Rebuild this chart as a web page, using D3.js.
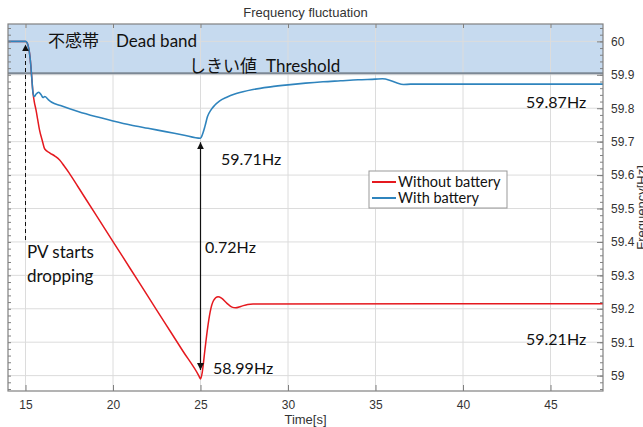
<!DOCTYPE html>
<html>
<head>
<meta charset="utf-8">
<script src="https://cdn.jsdelivr.net/npm/d3@7"></script>
<style>
  body { margin: 0; background: white; }
  svg { display: block; }
  .tick text { font-family: "Liberation Sans Narrow", "Liberation Sans", Arial, sans-serif; font-size: 12px; fill: #333; }
  .note { font-family: Lato, "Noto Sans", sans-serif; font-size: 16px; fill: #111; }
</style>
</head>
<body>
<svg id="chart"></svg>
<script>
// data
let timeTicks = [15, 20, 25, 30, 35, 40, 45]
let freqTicks = [59, 59.1, 59.2, 59.3, 59.4, 59.5, 59.6, 59.7, 59.8, 59.9, 60]
let seriesNames = ["Without battery", "With battery"]

let withBatteryT = [14, 15.0, 15.1, 15.2, 15.3, 15.36, 15.42, 15.5, 15.6, 15.75, 15.9, 16.0, 16.1, 16.3, 16.5,
  17, 18, 19, 20, 21, 22, 23, 24, 25, 25.1, 25.25, 25.4, 25.6, 25.8, 26.1, 26.5, 27, 28, 29, 30, 31, 32, 33,
  34, 35, 35.4, 35.8, 36.2, 36.6, 37, 48]
let withBatteryF = [60, 60, 59.995, 59.975, 59.93, 59.89, 59.85, 59.835, 59.842, 59.848, 59.84, 59.832, 59.835, 59.826, 59.818,
  59.808, 59.79, 59.775, 59.762, 59.75, 59.74, 59.73, 59.72, 59.71, 59.72, 59.745, 59.775, 59.795, 59.808, 59.822, 59.833, 59.843, 59.856, 59.864, 59.870, 59.875, 59.879, 59.882,
  59.885, 59.887, 59.888, 59.884, 59.876, 59.871, 59.872, 59.872]

let withoutBatteryT = [14, 15.0, 15.1, 15.2, 15.3, 15.36, 15.42, 15.5, 15.6, 15.7, 15.8, 15.95, 16.1, 16.4, 16.7, 16.95,
  17.2, 17.5, 18, 19, 20, 21, 22, 23, 24, 24.9, 25.0, 25.1, 25.25, 25.4, 25.55, 25.75, 26.0, 26.2, 26.5, 26.8,
  27.0, 27.3, 27.7, 28, 48]
let withoutBatteryF = [60, 60, 59.995, 59.975, 59.93, 59.89, 59.85, 59.82, 59.795, 59.765, 59.735, 59.705, 59.678, 59.666, 59.656, 59.645,
  59.628, 59.606, 59.565, 59.483, 59.401, 59.319, 59.237, 59.155, 59.073, 59.0, 58.99, 59.01, 59.076, 59.14, 59.19, 59.225, 59.236, 59.232, 59.217, 59.205,
  59.203, 59.207, 59.213, 59.214, 59.215]

let deadBand = [59.905, 60.05]   // shaded band: threshold up to the top
let pvStart = 15
let gapTime = 25, gapTop = 59.71, gapBottom = 58.99

let width = 643, height = 427
let margin = { top: 24, bottom: 36, left: 8, right: 40 }

let svg = d3.select("#chart").attr("width", width).attr("height", height)

let x = d3.scaleLinear().domain([14, 48]).range([margin.left, width - margin.right])
let y = d3.scaleLinear().domain([58.954, 60.052]).range([height - margin.bottom, margin.top])

let plotW = width - margin.left - margin.right
let plotH = height - margin.top - margin.bottom

// dead band fill
svg.append("rect")
  .attr("x", x(14)).attr("width", plotW)
  .attr("y", y(60.052)).attr("height", y(deadBand[0]) - y(60.052))
  .attr("fill", "#c6daef")

// grid
svg.append("g").selectAll("line").data(timeTicks).join("line")
  .attr("x1", d => x(d)).attr("x2", d => x(d))
  .attr("y1", margin.top).attr("y2", height - margin.bottom)
  .attr("stroke", "#dcdcdc").attr("stroke-width", 1)
svg.append("g").selectAll("line").data(freqTicks).join("line")
  .attr("x1", margin.left).attr("x2", width - margin.right)
  .attr("y1", d => y(d)).attr("y2", d => y(d))
  .attr("stroke", "#dcdcdc").attr("stroke-width", 1)

// threshold line
svg.append("line")
  .attr("x1", margin.left).attr("x2", width - margin.right)
  .attr("y1", y(deadBand[0])).attr("y2", y(deadBand[0]))
  .attr("stroke", "#7d8895").attr("stroke-width", 2)

// curves
let line = d3.line().curve(d3.curveMonotoneX).x(d => x(d[0])).y(d => y(d[1]))
svg.append("path")
  .datum(d3.zip(withoutBatteryT, withoutBatteryF))
  .attr("d", line).attr("fill", "none").attr("stroke", "#e5191f").attr("stroke-width", 1.5)
svg.append("path")
  .datum(d3.zip(withBatteryT, withBatteryF))
  .attr("d", line).attr("fill", "none").attr("stroke", "#2f84bd").attr("stroke-width", 1.6)

// axes
let axisColor = "#808080"
let minorTicks = d3.range(58.96, 60.05, 0.02)
svg.append("g").attr("transform", `translate(${margin.left},0)`)
  .call(d3.axisRight(y).tickValues(minorTicks).tickSize(3).tickFormat(""))
svg.append("g").attr("transform", `translate(${width - margin.right},0)`)
  .call(d3.axisLeft(y).tickValues(minorTicks).tickSize(3).tickFormat(""))
svg.append("g").attr("transform", `translate(${width - margin.right},0)`)
  .call(d3.axisRight(y).tickValues(freqTicks).tickSize(0).tickPadding(8).tickFormat(d3.format("")))
svg.append("g").attr("transform", `translate(${width - margin.right},0)`)
  .call(d3.axisLeft(y).tickValues(freqTicks).tickSize(6).tickFormat(""))
svg.append("g").attr("transform", `translate(0,${height - margin.bottom})`)
  .call(d3.axisTop(x).tickValues(timeTicks).tickSize(6).tickFormat(""))
svg.append("g").attr("transform", `translate(0,${height - margin.bottom})`)
  .call(d3.axisBottom(x).tickValues(timeTicks).tickSize(0).tickPadding(9))
svg.append("g").attr("transform", `translate(0,${margin.top})`)
  .call(d3.axisBottom(x).tickValues(timeTicks).tickSize(4).tickFormat(""))
svg.selectAll(".domain").remove()
svg.selectAll(".tick line").attr("stroke", axisColor)

svg.append("rect")
  .attr("x", margin.left).attr("y", margin.top).attr("width", plotW).attr("height", plotH)
  .attr("fill", "none").attr("stroke", axisColor).attr("stroke-width", 1.2)

// titles
let axisFont = "Liberation Sans Narrow, Liberation Sans, Arial"
svg.append("text").attr("x", x(31)).attr("y", 17).attr("text-anchor", "middle")
  .attr("font-family", axisFont).attr("font-size", 13).attr("fill", "#333")
  .text("Frequency fluctuation")
svg.append("text").attr("x", x(31)).attr("y", 424).attr("text-anchor", "middle")
  .attr("font-family", axisFont).attr("font-size", 13).attr("fill", "#333")
  .text("Time[s]")
svg.append("text").attr("transform", `translate(646,${margin.top + plotH / 2}) rotate(-90)`).attr("text-anchor", "middle")
  .attr("font-family", axisFont).attr("font-size", 13).attr("fill", "#333")
  .text("Frequency[Hz]")

// band labels
let jp = "'Noto Sans CJK JP', sans-serif"
let band = svg.append("text").attr("x", 48).attr("y", 47).attr("font-size", 17).attr("fill", "#111")
band.append("tspan").attr("font-family", jp).text("不感帯")
band.append("tspan").attr("font-family", "Lato, sans-serif").attr("dx", 17).text("Dead band")
let thr = svg.append("text").attr("x", 189).attr("y", 72).attr("font-size", 17).attr("fill", "#111")
thr.append("tspan").attr("font-family", jp).text("しきい値")
thr.append("tspan").attr("font-family", "Lato, sans-serif").attr("dx", 9).text("Threshold")

// arrows
let defs = svg.append("defs")
defs.append("marker").attr("id", "head").attr("viewBox", "0 0 10 10")
  .attr("refX", 10).attr("refY", 5).attr("markerWidth", 7).attr("markerHeight", 8).attr("orient", "auto-start-reverse")
  .attr("markerUnits", "userSpaceOnUse")
  .append("path").attr("d", "M0,0 L10,5 L0,10 z").attr("fill", "#111")

svg.append("line")
  .attr("x1", x(pvStart)).attr("x2", x(pvStart))
  .attr("y1", 240).attr("y2", y(60) + 3)
  .attr("stroke", "#111").attr("stroke-width", 1).attr("stroke-dasharray", "4,3")
  .attr("marker-end", "url(#head)")
svg.append("line")
  .attr("x1", x(gapTime)).attr("x2", x(gapTime))
  .attr("y1", y(gapTop) + 4).attr("y2", y(gapBottom) - 9)
  .attr("stroke", "#111").attr("stroke-width", 1.2)
  .attr("marker-start", "url(#head)").attr("marker-end", "url(#head)")

// value notes
let notes = [
  ["59.87Hz", 526, 108, 16],
  ["59.71Hz", 221, 165, 16],
  ["0.72Hz", 205, 253, 16],
  ["58.99Hz", 213, 374, 16],
  ["59.21Hz", 526, 345, 16],
  ["PV starts", 27, 258, 17],
  ["dropping", 27, 282, 17]
]
svg.append("g").selectAll("text").data(notes).join("text")
  .attr("class", "note").attr("x", d => d[1]).attr("y", d => d[2])
  .style("font-size", d => d[3] + "px").text(d => d[0])

// legend
let lg = svg.append("g").attr("transform", "translate(369,171)")
lg.append("rect").attr("width", 138).attr("height", 37).attr("fill", "white").attr("stroke", "#999")
let colors = ["#e5191f", "#2f84bd"]
seriesNames.forEach((name, i) => {
  lg.append("line").attr("x1", 3).attr("x2", 27).attr("y1", 11 + i * 16).attr("y2", 11 + i * 16)
    .attr("stroke", colors[i]).attr("stroke-width", 2)
  lg.append("text").attr("x", 29).attr("y", 16 + i * 16)
    .attr("font-family", "Lato, sans-serif").attr("font-size", 14.5).attr("fill", "#111").text(name)
})
</script>
</body>
</html>
